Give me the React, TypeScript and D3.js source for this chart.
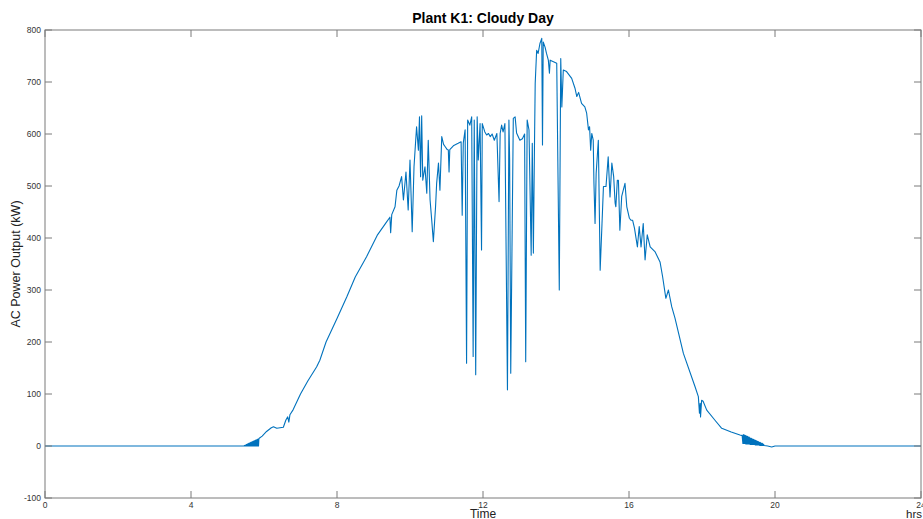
import React from "react";
import * as d3 from "d3";

const hours: number[] = [
  0, 5.45,
  5.46, 5.47, 5.48, 5.49, 5.5, 5.51, 5.52, 5.53, 5.54, 5.55, 5.56, 5.57, 5.58, 5.59, 5.6, 5.61, 5.62, 5.63, 5.64, 5.65,
  5.66, 5.67, 5.68, 5.69, 5.7, 5.71, 5.72, 5.73, 5.74, 5.75, 5.76, 5.77, 5.78, 5.79, 5.8, 5.81, 5.82, 5.83, 5.84, 5.85, 5.86, 5.87,
  5.95, 6.07, 6.2, 6.26, 6.35, 6.44, 6.53, 6.6, 6.65, 6.68, 6.71, 6.8, 6.9, 7.0, 7.2, 7.44, 7.53, 7.7, 8.0, 8.27, 8.5, 8.81, 9.1, 9.36, 9.45, 9.47, 9.5,
  9.59, 9.64, 9.7, 9.77, 9.82, 9.89, 9.95, 10.0, 10.06, 10.11, 10.18, 10.23, 10.26, 10.29, 10.32, 10.35, 10.41, 10.46, 10.5, 10.55, 10.6, 10.64, 10.7,
  10.73, 10.78, 10.82, 10.87, 10.92, 10.96, 11.02, 11.05, 11.07, 11.09, 11.2, 11.32, 11.4, 11.43, 11.46, 11.51, 11.55, 11.58, 11.64, 11.69, 11.73,
  11.76, 11.8, 11.84, 11.87, 11.92, 11.96, 11.98, 12.05, 12.1, 12.15, 12.2, 12.25, 12.31, 12.38, 12.44, 12.47, 12.51, 12.55, 12.6, 12.67, 12.71,
  12.73, 12.76, 12.83, 12.88, 12.92, 13.01, 13.08, 13.14, 13.17, 13.21, 13.26, 13.32, 13.35, 13.38, 13.41, 13.43, 13.47, 13.51, 13.56, 13.61,
  13.63, 13.65, 13.7, 13.74, 13.79, 13.82, 13.84, 13.93, 14.02, 14.09, 14.13, 14.16, 14.2, 14.29, 14.43, 14.52, 14.57, 14.62, 14.7, 14.79, 14.84,
  14.89, 14.92, 14.95, 14.98, 15.02, 15.04, 15.07, 15.1, 15.16, 15.21, 15.26, 15.3, 15.37, 15.43, 15.48, 15.53, 15.58, 15.62, 15.64, 15.68, 15.71,
  15.75, 15.8, 15.89, 15.94, 16.01, 16.06, 16.1, 16.15, 16.23, 16.28, 16.33, 16.39, 16.44, 16.5, 16.58, 16.71, 16.85, 16.92, 17.01, 17.08, 17.17,
  17.26, 17.49, 17.81, 17.9, 17.93, 17.95, 17.96, 17.99, 18.03, 18.13, 18.35, 18.54, 18.8, 19.04, 19.1,
  19.12, 19.13, 19.14, 19.15, 19.16, 19.17, 19.18, 19.19, 19.2, 19.21, 19.22, 19.23, 19.24, 19.25, 19.26, 19.27, 19.28, 19.29, 19.3,
  19.31, 19.32, 19.33, 19.34, 19.35, 19.36, 19.37, 19.38, 19.39, 19.4, 19.41, 19.42, 19.43, 19.44, 19.45, 19.46, 19.47, 19.48, 19.49, 19.5,
  19.51, 19.52, 19.53, 19.54, 19.55, 19.56, 19.57, 19.58, 19.59, 19.6, 19.61, 19.62, 19.63, 19.64, 19.65, 19.66, 19.67, 19.68, 19.69, 19.7,
  19.8, 19.91, 20.0, 24,
];

const powerKW: number[] = [
  0, 0,
  1, 0, 1.5, 0, 2, 0, 3, 0, 3.5, 0, 4, 0, 5, 0, 5.5, 0, 6, 0, 7, 0,
  7.5, 0, 8, 0, 9, 0, 9.5, 0, 10, 0, 11, 0, 11.5, 0, 12, 0, 13, 0, 13.5, 0, 14, 15,
  19, 28, 35, 37, 34, 35, 36, 50, 56, 46, 60, 70, 85, 100, 125, 152, 165, 200, 245, 287, 325, 364, 405, 431, 440, 410, 445,
  460, 492, 500, 518, 473, 527, 454, 550, 412, 537, 614, 569, 633, 518, 635, 511, 537, 486, 588, 473, 430, 393, 460,
  505, 544, 492, 595, 580, 576, 570, 569, 527, 570, 578, 582, 585, 444, 583, 608, 159, 627, 617, 633, 172,
  627, 137, 633, 550, 620, 377, 620, 604, 598, 601, 595, 600, 588, 601, 470, 601, 617, 604, 620, 108, 627,
  550, 140, 630, 633, 602, 588, 591, 600, 162, 627, 608, 367, 582, 371, 575, 697, 761, 755, 774, 784,
  579, 777, 767, 755, 742, 717, 742, 739, 736, 300, 745, 652, 723, 720, 707, 688, 672, 680, 659, 652, 640,
  608, 614, 569, 601, 588, 505, 428, 524, 588, 338, 427, 499, 499, 556, 479, 544, 518, 467, 460, 511, 511,
  415, 480, 505, 460, 438, 434, 434, 419, 383, 422, 383, 428, 358, 406, 383, 374, 354, 326, 284, 300, 268,
  246, 178, 114, 95, 63, 82, 56, 88, 86, 69, 50, 34, 27, 21, 20,
  5, 22, 5, 21, 5, 21, 5, 20, 4, 19, 4, 19, 4, 18, 4, 17, 4, 17, 4,
  16, 3, 15, 3, 15, 3, 14, 3, 13, 3, 13, 3, 12, 3, 11, 2, 11, 2, 10, 2,
  9, 2, 9, 2, 8, 2, 7, 1, 7, 1, 6, 1, 5, 1, 5, 1, 4, 1, 3, 1,
  0, -2, 0, 0,
];

const xTicks: number[] = [0, 4, 8, 12, 16, 20, 24];
const yTicks: number[] = [-100, 0, 100, 200, 300, 400, 500, 600, 700, 800];

const titleText = "Plant K1: Cloudy Day";
const xLabelText = "Time";
const xUnitText = "hrs";
const yLabelText = "AC Power Output (kW)";

const W = 923;
const H = 519;
const left = 45;
const right = 921;
const top = 30;
const bottom = 498;
const tickLen = 7;
const FONT = "'Liberation Sans', Arial, Helvetica, sans-serif";
const axisColor = "#7a7a7a";
const labelColor = "#333";
const lineColor = "#0072BD";

export default function App() {
  const x = d3.scaleLinear().domain([0, 24]).range([left, right]);
  const y = d3.scaleLinear().domain([-100, 800]).range([bottom, top]);
  const pts: [number, number][] = hours.map((h, i) => [h, powerKW[i]]);
  const line = d3
    .line<[number, number]>()
    .x((d) => x(d[0]))
    .y((d) => y(d[1]));

  return (
    <div style={{ position: "absolute", left: 0, top: 0, width: W, height: H, background: "#fff" }}>
      <svg width={W} height={H} style={{ display: "block" }} fontFamily={FONT}>
        <rect x={0} y={0} width={W} height={H} fill="#fff" />
        <path d={line(pts) || ""} fill="none" stroke={lineColor} strokeWidth={1.1} strokeLinejoin="round" />
        <rect
          x={left}
          y={top}
          width={right - left}
          height={bottom - top}
          fill="none"
          stroke={axisColor}
          strokeWidth={1}
        />
        {xTicks.map((t) => (
          <g key={"x" + t}>
            <line x1={x(t)} x2={x(t)} y1={bottom} y2={bottom - tickLen} stroke={axisColor} />
            <line x1={x(t)} x2={x(t)} y1={top} y2={top + tickLen} stroke={axisColor} />
            <text x={x(t)} y={508} textAnchor="middle" fontSize={8.5} fill={labelColor}>
              {t}
            </text>
          </g>
        ))}
        {yTicks.map((t) => (
          <g key={"y" + t}>
            <line x1={left} x2={left + tickLen} y1={y(t)} y2={y(t)} stroke={axisColor} />
            <line x1={right} x2={right - tickLen} y1={y(t)} y2={y(t)} stroke={axisColor} />
            <text x={41} y={y(t) + 3} textAnchor="end" fontSize={8.5} fill={labelColor}>
              {t}
            </text>
          </g>
        ))}
        <text x={(left + right) / 2} y={23} textAnchor="middle" fontSize={14} fontWeight="bold" fill="#000">
          {titleText}
        </text>
        <text x={(left + right) / 2} y={518} textAnchor="middle" fontSize={12} fill="#222">
          {xLabelText}
        </text>
        <text x={922} y={518} textAnchor="end" fontSize={11.5} fill="#222">
          {xUnitText}
        </text>
        <text
          transform={`translate(20, ${(top + bottom) / 2}) rotate(-90)`}
          textAnchor="middle"
          fontSize={12.5}
          fill="#222"
        >
          {yLabelText}
        </text>
      </svg>
    </div>
  );
}
